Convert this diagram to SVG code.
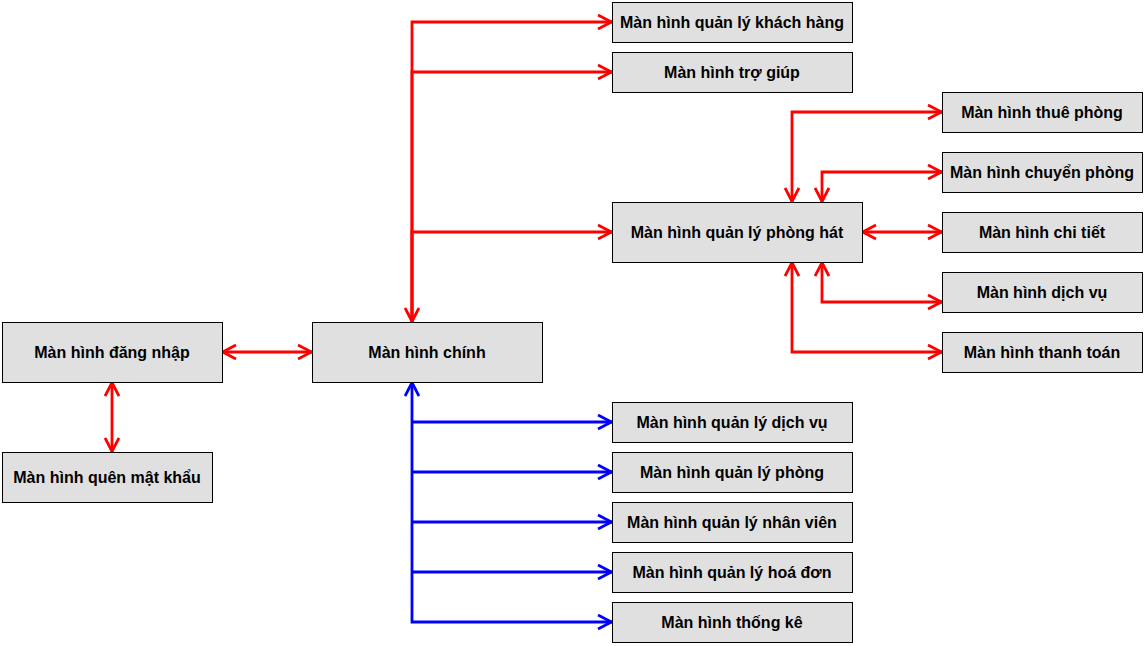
<svg xmlns="http://www.w3.org/2000/svg" width="1146" height="646" viewBox="0 0 1146 646">
<style>
.n rect{fill:#e0e0e0;stroke:#000;stroke-width:1}
.n text{font-family:"Liberation Sans",Arial,sans-serif;font-weight:bold;font-size:16px;fill:#000;text-anchor:middle;dominant-baseline:central}
.r{fill:none;stroke:#ff0000;stroke-width:2.8}
.b{fill:none;stroke:#0000ff;stroke-width:2.8}
</style>
<defs>
<marker id="ar" viewBox="0 0 16 16" refX="15" refY="8" markerWidth="16" markerHeight="16" markerUnits="userSpaceOnUse" orient="auto-start-reverse">
<path d="M1,1 L14.5,8 L1,15" fill="none" stroke="#ff0000" stroke-width="2.8"/>
</marker>
<marker id="ab" viewBox="0 0 16 16" refX="15" refY="8" markerWidth="16" markerHeight="16" markerUnits="userSpaceOnUse" orient="auto-start-reverse">
<path d="M1,1 L14.5,8 L1,15" fill="none" stroke="#0000ff" stroke-width="2.8"/>
</marker>
</defs>
<rect width="1146" height="646" fill="#fff"/>
<g id="connectors">
<path class="r" d="M222,352 H312" marker-start="url(#ar)" marker-end="url(#ar)"/>
<path class="r" d="M112,382 V452" marker-start="url(#ar)" marker-end="url(#ar)"/>
<path class="r" d="M412,322 V22 H612" marker-start="url(#ar)" marker-end="url(#ar)"/>
<path class="r" d="M412,322 V72 H612" marker-end="url(#ar)"/>
<path class="r" d="M412,322 V232 H612" marker-end="url(#ar)"/>
<path class="r" d="M792,202 V112 H942" marker-start="url(#ar)" marker-end="url(#ar)"/>
<path class="r" d="M822,202 V172 H942" marker-start="url(#ar)" marker-end="url(#ar)"/>
<path class="r" d="M862,232 H942" marker-start="url(#ar)" marker-end="url(#ar)"/>
<path class="r" d="M822,262 V302 H942" marker-start="url(#ar)" marker-end="url(#ar)"/>
<path class="r" d="M792,262 V352 H942" marker-start="url(#ar)" marker-end="url(#ar)"/>
<path class="b" d="M412,382 V622 H612" marker-start="url(#ab)" marker-end="url(#ab)"/>
<path class="b" d="M412,422 H612" marker-end="url(#ab)"/>
<path class="b" d="M412,472 H612" marker-end="url(#ab)"/>
<path class="b" d="M412,522 H612" marker-end="url(#ab)"/>
<path class="b" d="M412,572 H612" marker-end="url(#ab)"/>
</g>
<g id="dangnhap" class="n"><rect x="2.5" y="322.5" width="220" height="60"/><text x="112" y="352">Màn hình đăng nhập</text></g>
<g id="quenmatkhau" class="n"><rect x="2.5" y="452.5" width="210" height="50"/><text x="107" y="477">Màn hình quên mật khẩu</text></g>
<g id="chinh" class="n"><rect x="312.5" y="322.5" width="230" height="60"/><text x="427" y="352">Màn hình chính</text></g>
<g id="khachhang" class="n"><rect x="612.5" y="2.5" width="240" height="40"/><text x="732" y="22">Màn hình quản lý khách hàng</text></g>
<g id="trogiup" class="n"><rect x="612.5" y="52.5" width="240" height="40"/><text x="732" y="72">Màn hình trợ giúp</text></g>
<g id="phonghat" class="n"><rect x="612.5" y="202.5" width="250" height="60"/><text x="737" y="232">Màn hình quản lý phòng hát</text></g>
<g id="thuephong" class="n"><rect x="942.5" y="92.5" width="200" height="40"/><text x="1042" y="112">Màn hình thuê phòng</text></g>
<g id="chuyenphong" class="n"><rect x="942.5" y="152.5" width="200" height="40"/><text x="1042" y="172">Màn hình chuyển phòng</text></g>
<g id="chitiet" class="n"><rect x="942.5" y="212.5" width="200" height="40"/><text x="1042" y="232">Màn hình chi tiết</text></g>
<g id="dichvu" class="n"><rect x="942.5" y="272.5" width="200" height="40"/><text x="1042" y="292">Màn hình dịch vụ</text></g>
<g id="thanhtoan" class="n"><rect x="942.5" y="332.5" width="200" height="40"/><text x="1042" y="352">Màn hình thanh toán</text></g>
<g id="qldichvu" class="n"><rect x="612.5" y="402.5" width="240" height="40"/><text x="732" y="422">Màn hình quản lý dịch vụ</text></g>
<g id="qlphong" class="n"><rect x="612.5" y="452.5" width="240" height="40"/><text x="732" y="472">Màn hình quản lý phòng</text></g>
<g id="qlnhanvien" class="n"><rect x="612.5" y="502.5" width="240" height="40"/><text x="732" y="522">Màn hình quản lý nhân viên</text></g>
<g id="qlhoadon" class="n"><rect x="612.5" y="552.5" width="240" height="40"/><text x="732" y="572">Màn hình quản lý hoá đơn</text></g>
<g id="thongke" class="n"><rect x="612.5" y="602.5" width="240" height="40"/><text x="732" y="622">Màn hình thống kê</text></g>
</svg>
